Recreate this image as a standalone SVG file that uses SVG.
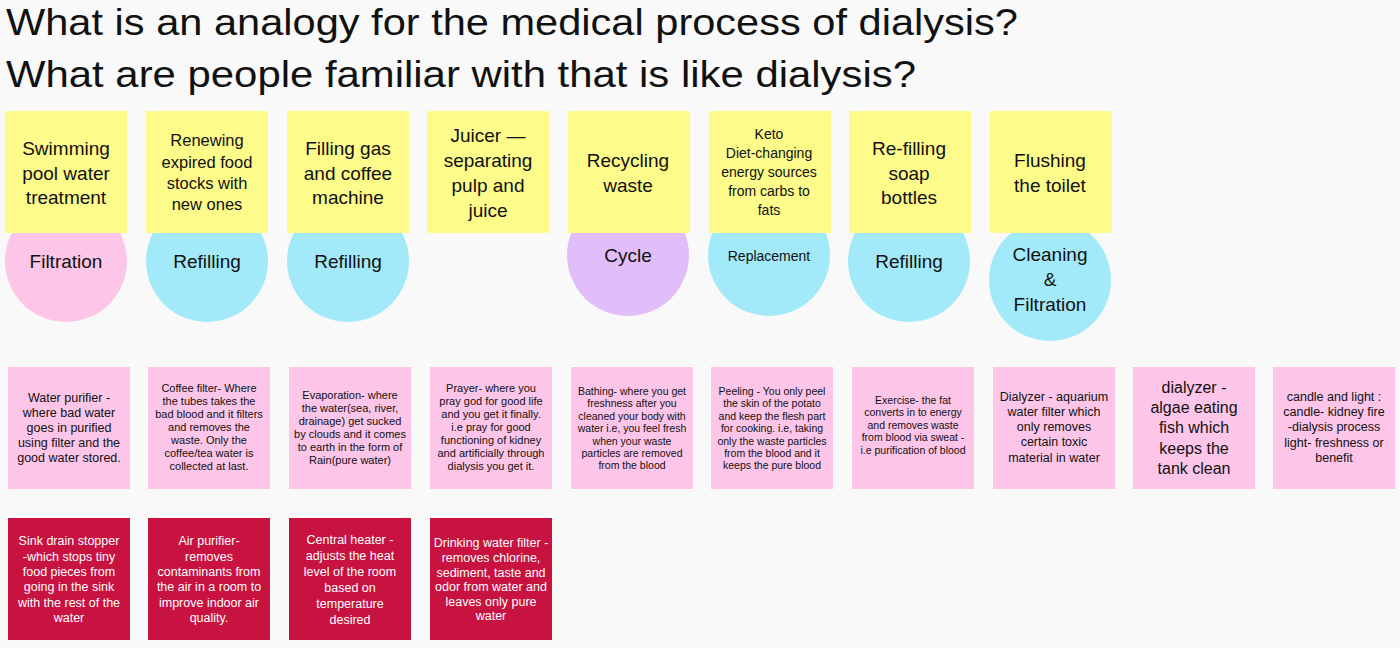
<svg xmlns="http://www.w3.org/2000/svg" width="1400" height="648" viewBox="0 0 1400 648">
<style>
text{font-family:"Liberation Sans",Arial,sans-serif;text-anchor:middle;fill:#111}
.t{font-size:36px;text-anchor:start}
.y{fill:#fdfb8a}
.p{fill:#fdc5e8}
.r{fill:#c8123f}
.c{fill:#a2eaf9}
.s{font-size:19px}
.m{font-size:11px}
.w{fill:#fff;font-size:12.5px}
</style>
<rect width="1400" height="648" fill="#f9f9f9"/>
<text class="t" x="6" y="35" textLength="1012" lengthAdjust="spacingAndGlyphs">What is an analogy for the medical process of dialysis?</text>
<text class="t" x="6" y="87" textLength="910" lengthAdjust="spacingAndGlyphs">What are people familiar with that is like dialysis?</text>
<g id="circles">
<circle cx="66" cy="261" r="61" class="p"/><text class="s" x="66" y="268">Filtration</text>
<circle cx="207" cy="261" r="61" class="c"/><text class="s" x="207" y="268">Refilling</text>
<circle cx="348" cy="261" r="61" class="c"/><text class="s" x="348" y="268">Refilling</text>
<circle cx="628" cy="255" r="61" fill="#e1bdf9"/><text class="s" x="628" y="262">Cycle</text>
<circle cx="769" cy="255" r="61" class="c"/><text x="769" y="261" font-size="14">Replacement</text>
<circle cx="909" cy="261" r="61" class="c"/><text class="s" x="909" y="268">Refilling</text>
<circle cx="1050" cy="280" r="61" class="c"/><text class="s" x="1050" y="261">Cleaning</text><text class="s" x="1050" y="286">&amp;</text><text class="s" x="1050" y="311">Filtration</text>
</g>
<g id="top" class="s">
<rect x="5" y="111" width="122" height="122" class="y"/><text x="66" y="155">Swimming</text><text x="66" y="180">pool water</text><text x="66" y="204">treatment</text>
<rect x="146" y="111" width="122" height="122" class="y"/><text font-size="16.5"><tspan x="207" y="146">Renewing</tspan><tspan x="207" y="168">expired food</tspan><tspan x="207" y="189">stocks with</tspan><tspan x="207" y="210">new ones</tspan></text>
<rect x="287" y="111" width="122" height="122" class="y"/><text x="348" y="155">Filling gas</text><text x="348" y="180">and coffee</text><text x="348" y="204">machine</text>
<rect x="427" y="111" width="122" height="122" class="y"/><text x="488" y="142">Juicer —</text><text x="488" y="167">separating</text><text x="488" y="192">pulp and</text><text x="488" y="217">juice</text>
<rect x="568" y="111" width="122" height="122" class="y"/><text x="628" y="167">Recycling</text><text x="628" y="192">waste</text>
<rect x="709" y="111" width="122" height="122" class="y"/><text font-size="14"><tspan x="769" y="139">Keto</tspan><tspan x="769" y="158">Diet-changing</tspan><tspan x="769" y="177">energy sources</tspan><tspan x="769" y="196">from carbs to</tspan><tspan x="769" y="215">fats</tspan></text>
<rect x="849" y="111" width="122" height="122" class="y"/><text x="909" y="155">Re-filling</text><text x="909" y="180">soap</text><text x="909" y="204">bottles</text>
<rect x="990" y="111" width="122" height="122" class="y"/><text x="1050" y="167">Flushing</text><text x="1050" y="192">the toilet</text>
</g>
<g id="pink">
<rect x="8" y="367" width="122" height="122" class="p"/><text font-size="12.5"><tspan x="69" y="402">Water purifier -</tspan><tspan x="69" y="417">where bad water</tspan><tspan x="69" y="432">goes in purified</tspan><tspan x="69" y="447">using filter and the</tspan><tspan x="69" y="462">good water stored.</tspan></text>
<rect x="148" y="367" width="122" height="122" class="p"/><text class="m"><tspan x="209" y="392">Coffee filter- Where</tspan><tspan x="209" y="405">the tubes takes the</tspan><tspan x="209" y="418">bad blood and it filters</tspan><tspan x="209" y="431">and removes the</tspan><tspan x="209" y="444">waste. Only the</tspan><tspan x="209" y="457">coffee/tea water is</tspan><tspan x="209" y="470">collected at last.</tspan></text>
<rect x="289" y="367" width="122" height="122" class="p"/><text class="m"><tspan x="350" y="399">Evaporation- where</tspan><tspan x="350" y="412">the water(sea, river,</tspan><tspan x="350" y="425">drainage) get sucked</tspan><tspan x="350" y="438">by clouds and it comes</tspan><tspan x="350" y="451">to earth in the form of</tspan><tspan x="350" y="464">Rain(pure water)</tspan></text>
<rect x="430" y="367" width="122" height="122" class="p"/><text class="m"><tspan x="491" y="392">Prayer- where you</tspan><tspan x="491" y="405">pray god for good life</tspan><tspan x="491" y="418">and you get it finally.</tspan><tspan x="491" y="431">i.e pray for good</tspan><tspan x="491" y="444">functioning of kidney</tspan><tspan x="491" y="457">and artificially through</tspan><tspan x="491" y="470">dialysis you get it.</tspan></text>
<rect x="571" y="367" width="122" height="122" class="p"/><text font-size="10.5"><tspan x="632" y="395">Bathing- where you get</tspan><tspan x="632" y="407">freshness after you</tspan><tspan x="632" y="420">cleaned your body with</tspan><tspan x="632" y="432">water i.e, you feel fresh</tspan><tspan x="632" y="445">when your waste</tspan><tspan x="632" y="457">particles are removed</tspan><tspan x="632" y="469">from the blood</tspan></text>
<rect x="711" y="367" width="122" height="122" class="p"/><text font-size="10.5"><tspan x="772" y="395">Peeling - You only peel</tspan><tspan x="772" y="407">the skin of the potato</tspan><tspan x="772" y="420">and keep the flesh part</tspan><tspan x="772" y="432">for cooking. i.e, taking</tspan><tspan x="772" y="445">only the waste particles</tspan><tspan x="772" y="457">from the blood and it</tspan><tspan x="772" y="469">keeps the pure blood</tspan></text>
<rect x="852" y="367" width="122" height="122" class="p"/><text font-size="10.5"><tspan x="913" y="404">Exercise- the fat</tspan><tspan x="913" y="416">converts in to energy</tspan><tspan x="913" y="429">and removes waste</tspan><tspan x="913" y="441">from blood via sweat  -</tspan><tspan x="913" y="454">i.e purification of blood</tspan></text>
<rect x="993" y="367" width="122" height="122" class="p"/><text font-size="12.5"><tspan x="1054" y="401">Dialyzer - aquarium</tspan><tspan x="1054" y="416">water filter which</tspan><tspan x="1054" y="431">only removes</tspan><tspan x="1054" y="446">certain toxic</tspan><tspan x="1054" y="462">material in water</tspan></text>
<rect x="1133" y="367" width="122" height="122" class="p"/><text font-size="16"><tspan x="1194" y="393">dialyzer -</tspan><tspan x="1194" y="413">algae eating</tspan><tspan x="1194" y="433">fish which</tspan><tspan x="1194" y="454">keeps the</tspan><tspan x="1194" y="474">tank clean</tspan></text>
<rect x="1273" y="367" width="122" height="122" class="p"/><text font-size="12.5"><tspan x="1334" y="401">candle and light :</tspan><tspan x="1334" y="416">candle- kidney fire</tspan><tspan x="1334" y="431">-dialysis process</tspan><tspan x="1334" y="447">light- freshness or</tspan><tspan x="1334" y="462">benefit</tspan></text>
</g>
<g id="red">
<rect x="8" y="518" width="122" height="122" class="r"/><text class="w"><tspan x="69" y="545">Sink drain stopper</tspan><tspan x="69" y="561">-which stops tiny</tspan><tspan x="69" y="576">food pieces from</tspan><tspan x="69" y="591">going in the sink</tspan><tspan x="69" y="607">with the rest of the</tspan><tspan x="69" y="622">water</tspan></text>
<rect x="148" y="518" width="122" height="122" class="r"/><text class="w"><tspan x="209" y="545">Air purifier-</tspan><tspan x="209" y="561">removes</tspan><tspan x="209" y="576">contaminants from</tspan><tspan x="209" y="591">the air in a room to</tspan><tspan x="209" y="607">improve indoor air</tspan><tspan x="209" y="622">quality.</tspan></text>
<rect x="289" y="518" width="122" height="122" class="r"/><text class="w"><tspan x="350" y="544">Central heater -</tspan><tspan x="350" y="560">adjusts the heat</tspan><tspan x="350" y="576">level of the room</tspan><tspan x="350" y="592">based on</tspan><tspan x="350" y="608">temperature</tspan><tspan x="350" y="624">desired</tspan></text>
<rect x="430" y="518" width="122" height="122" class="r"/><text class="w" font-size="11"><tspan x="491" y="547">Drinking water filter -</tspan><tspan x="491" y="562">removes chlorine,</tspan><tspan x="491" y="577">sediment, taste and</tspan><tspan x="491" y="591">odor from water and</tspan><tspan x="491" y="606">leaves only pure</tspan><tspan x="491" y="620">water</tspan></text>
</g>
<g id="connectors"/>
</svg>
